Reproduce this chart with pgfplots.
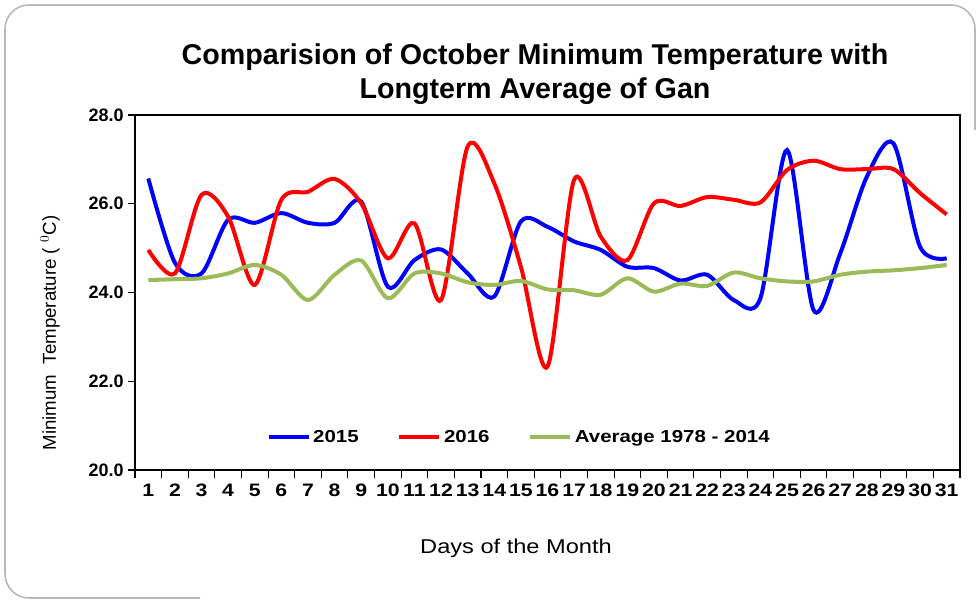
\documentclass[border=0pt]{standalone}
\usepackage{pgfplots}
\pgfplotsset{compat=1.18}
\usepackage{fontspec}
\setmainfont{Liberation Sans}
\newfontfamily\wide{Liberation Sans}[FakeStretch=1.18]
\definecolor{avggreen}{RGB}{155,187,89}
\begin{document}
\begin{tikzpicture}[x=0.75pt,y=0.75pt]
\path[use as bounding box] (0,0) rectangle (979,600);
\draw[gray!55,line width=1.2pt,rounded corners=18] (975,470) -- (975,595) -- (5,595) -- (5,2) -- (200,2);
\node[font=\bfseries\fontsize{21.5}{25}\selectfont,align=center] at (535,526) {Comparision of October Minimum Temperature with\\Longterm Average of Gan};
\node[font=\fontsize{14}{17}\selectfont,rotate=90] at (50,267) {Minimum~~Temperature ( $^{0}$C)};
\node[font=\wide\fontsize{15}{18}\selectfont] at (516,52) {Days of the Month};
\begin{axis}[
  at={(101.25pt,97.5pt)}, anchor=south west,
  scale only axis, width=618.75pt, height=266.25pt,
  xmin=0.5, xmax=31.5, ymin=20, ymax=28,
  axis line style={line width=2pt},
  xtick={1,...,31},
  major x tick style={draw=none},
  minor xtick={0.5,1.5,...,31.5},
  minor x tick style={black,line width=0.8pt},
  minor tick length=6pt,
  ytick={20,22,24,26,28},
  major y tick style={black,line width=0.8pt},
  major tick length=5pt,
  tick pos=left, tick align=outside,
  yticklabel style={font=\bfseries\fontsize{13.5}{16}\selectfont,/pgf/number format/.cd,fixed,fixed zerofill,precision=1},
  xticklabel style={font=\wide\bfseries\fontsize{13.5}{16}\selectfont,yshift=-2pt},
  /pgf/number format/assume math mode=true,
  legend style={at={(0.466,0.093)},anchor=center,draw=none,fill=none,
    legend columns=3,font=\wide\bfseries\fontsize{13}{16}\selectfont,
    /tikz/every even column/.append style={column sep=27pt}},
  legend image code/.code={\draw[#1,line width=3pt] (0pt,0pt) -- (30pt,0pt);},
  every axis plot/.append style={smooth,tension=0.5,line width=3pt},
]
\addplot[blue] coordinates {
(1,26.57) (2,24.67) (3,24.43) (4,25.64) (5,25.57) (6,25.79) (7,25.57) (8,25.57) (9,26.05) (10,24.13)
(11,24.73) (12,24.97) (13,24.43) (14,23.91) (15,25.6) (16,25.48) (17,25.15) (18,24.96) (19,24.58) (20,24.55)
(21,24.27) (22,24.4) (23,23.83) (24,23.87) (25,27.21) (26,23.6) (27,24.88) (28,26.61) (29,27.36) (30,25.03) (31,24.77)};
\addlegendentry{2015}
\addplot[red] coordinates {
(1,24.96) (2,24.43) (3,26.2) (4,25.71) (5,24.17) (6,26.09) (7,26.27) (8,26.56) (9,26.01) (10,24.77)
(11,25.56) (12,23.83) (13,27.29) (14,26.46) (15,24.58) (16,22.33) (17,26.54) (18,25.26) (19,24.73) (20,26.01)
(21,25.95) (22,26.15) (23,26.09) (24,26.03) (25,26.76) (26,26.97) (27,26.78) (28,26.78) (29,26.78) (30,26.24) (31,25.76)};
\addlegendentry{2016}
\addplot[avggreen] coordinates {
(1,24.28) (2,24.3) (3,24.32) (4,24.43) (5,24.62) (6,24.4) (7,23.83) (8,24.4) (9,24.72) (10,23.87)
(11,24.43) (12,24.43) (13,24.23) (14,24.17) (15,24.26) (16,24.07) (17,24.05) (18,23.95) (19,24.32) (20,24.02)
(21,24.2) (22,24.15) (23,24.45) (24,24.32) (25,24.25) (26,24.25) (27,24.4) (28,24.47) (29,24.5) (30,24.55) (31,24.62)};
\addlegendentry{Average 1978 - 2014}
\end{axis}
\end{tikzpicture}
\end{document}
